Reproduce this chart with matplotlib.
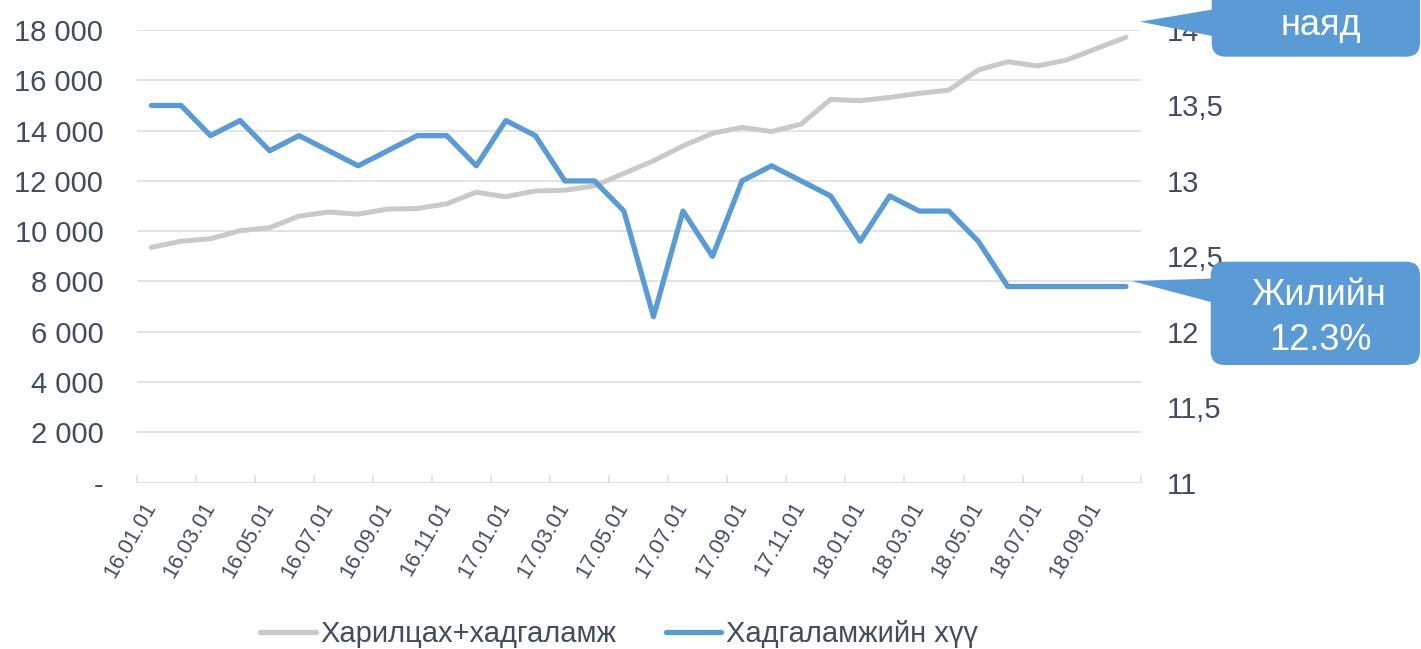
import matplotlib
matplotlib.use('Agg')
import matplotlib.pyplot as plt
from matplotlib.patches import FancyBboxPatch, Polygon
from matplotlib.transforms import IdentityTransform, ScaledTranslation
from matplotlib.lines import Line2D

plt.rcParams['font.family'] = ['Liberation Sans', 'DejaVu Sans']

# -------------------------------------------------------------------------
# Data (monthly, 2016.01 - 2018.10)
# -------------------------------------------------------------------------
months = ["16.01.01", "16.02.01", "16.03.01", "16.04.01", "16.05.01", "16.06.01",
          "16.07.01", "16.08.01", "16.09.01", "16.10.01", "16.11.01", "16.12.01",
          "17.01.01", "17.02.01", "17.03.01", "17.04.01", "17.05.01", "17.06.01",
          "17.07.01", "17.08.01", "17.09.01", "17.10.01", "17.11.01", "17.12.01",
          "18.01.01", "18.02.01", "18.03.01", "18.04.01", "18.05.01", "18.06.01",
          "18.07.01", "18.08.01", "18.09.01", "18.10.01"]

# Харилцах+хадгаламж (left axis)
deposits = [9360, 9600, 9700, 10020, 10140, 10600, 10760, 10680, 10880, 10900,
            11090, 11550, 11370, 11600, 11630, 11800, 12300, 12800, 13390, 13890,
            14130, 13960, 14260, 15240, 15190, 15320, 15480, 15610, 16410, 16740,
            16570, 16810, 17260, 17710]

# Хадгаламжийн хүү (right axis, %)
rate = [13.5, 13.5, 13.3, 13.4, 13.2, 13.3, 13.2, 13.1, 13.2, 13.3,
        13.3, 13.1, 13.4, 13.3, 13.0, 13.0, 12.8, 12.1, 12.8, 12.5,
        13.0, 13.1, 13.0, 12.9, 12.6, 12.9, 12.8, 12.8, 12.6, 12.3,
        12.3, 12.3, 12.3, 12.3]

left_ticks = [0, 2000, 4000, 6000, 8000, 10000, 12000, 14000, 16000, 18000]
right_ticks = [11, 11.5, 12, 12.5, 13, 13.5, 14]

label_deposits = "Харилцах+хадгаламж"
label_rate = "Хадгаламжийн хүү"
callout_top = "наяд"
callout_bottom = ["Жилийн", "12.3%"]

# -------------------------------------------------------------------------
# Style
# -------------------------------------------------------------------------
W, H = 1421, 649
BLUE = "#5B9BD5"
GRAY = "#C9C9C9"
TEXT = "#404D60"
GRID = "#DDE1E7"

fig = plt.figure(figsize=(W / 100, H / 100), dpi=100)
ax = fig.add_axes([136.7 / W, 1 - 482.7 / H, (1140.7 - 136.7) / W, (482.7 - 30) / H])
ax2 = ax.twinx()

x = list(range(len(months)))
ax.plot(x, deposits, color=GRAY, linewidth=3.6, solid_capstyle='round',
        solid_joinstyle='round')
ax2.plot(x, rate, color=BLUE, linewidth=3.8, solid_capstyle='round',
         solid_joinstyle='round')

ax.set_xlim(-0.5, len(months) - 0.5)
ax.set_ylim(0, 18000)
ax2.set_ylim(11, 14)

ax.set_yticks(left_ticks)
ax.set_yticklabels(["-" if v == 0 else f"{v:,}".replace(",", " ") for v in left_ticks])
ax2.set_yticks(right_ticks)
ax2.set_yticklabels([f"{v:g}".replace(".", ",") for v in right_ticks])

ax.set_xticks(x[::2])
ax.set_xticklabels(months[::2], rotation=60, ha='right', va='center',
                   rotation_mode='anchor', fontsize=15.5, color=TEXT)
shift = ScaledTranslation(0.03, 0, fig.dpi_scale_trans)
for lbl in ax.get_xticklabels():
    lbl.set_transform(lbl.get_transform() + shift)
ax.set_xticks([i - 0.5 for i in range(0, len(months) + 1, 2)], minor=True)
ax.tick_params(axis='x', which='major', length=0, pad=15)
ax.tick_params(axis='x', which='minor', direction='in', length=6, width=1.2,
               color=GRID)
ax.tick_params(axis='y', length=0, pad=24, labelsize=21, labelcolor=TEXT)
ax2.tick_params(axis='y', length=0, pad=19, labelsize=21, labelcolor=TEXT)

ax.grid(axis='y', color=GRID, linewidth=1.3)
ax.set_axisbelow(True)
for a in (ax, ax2):
    for s in ("top", "left", "right", "bottom"):
        a.spines[s].set_visible(False)
ax.axhline(0, color=GRID, linewidth=1.5, zorder=1)

# -------------------------------------------------------------------------
# Legend
# -------------------------------------------------------------------------
handles = [Line2D([], [], color=GRAY, linewidth=3.8, solid_capstyle='round'),
           Line2D([], [], color=BLUE, linewidth=3.8, solid_capstyle='round')]
fig.legend(handles, [label_deposits, label_rate], loc='center',
           bbox_to_anchor=(619 / W, 1 - 634 / H), ncol=2, frameon=False,
           fontsize=21, labelcolor=TEXT, handlelength=1.9, handletextpad=0.15,
           columnspacing=1.7)

# -------------------------------------------------------------------------
# Callouts (pixel geometry, origin top-left)
# -------------------------------------------------------------------------
def callout(x0, x1, y_top, y_bot, tip, base_top, base_bot):
    idt = IdentityTransform()
    box = FancyBboxPatch((x0, H - y_bot), x1 - x0, y_bot - y_top,
                         boxstyle="round,pad=0,rounding_size=14",
                         facecolor=BLUE, edgecolor='none', transform=idt)
    tri = Polygon([(tip[0], H - tip[1]), (x0 + 4, H - base_top),
                   (x0 + 4, H - base_bot)], closed=True,
                  facecolor=BLUE, edgecolor='none', transform=idt)
    fig.add_artist(tri)
    fig.add_artist(box)

callout(1211.7, 1420, -40, 56.7, (1140, 21.7), 9, 36.7)
callout(1210.7, 1420, 261.7, 365, (1131.7, 281), 278.5, 303)

fig.text(1321 / W, 1 - 35 / H, callout_top, ha='center', va='baseline',
         fontsize=26, color='white')
fig.text(1319 / W, 1 - 305 / H, callout_bottom[0], ha='center', va='baseline',
         fontsize=26, color='white')
fig.text(1320 / W, 1 - 350 / H, callout_bottom[1], ha='center', va='baseline',
         fontsize=26, color='white')

fig.savefig("out.png", dpi=100)
